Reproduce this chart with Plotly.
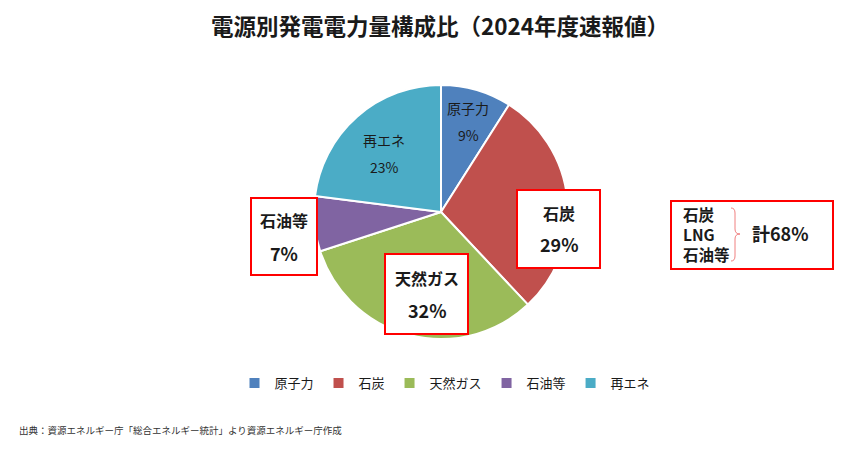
import plotly.graph_objects as go

W, H = 866, 449

sources = ["原子力", "石炭", "天然ガス", "石油等", "再エネ"]
shares = [9, 29, 32, 7, 23]
colors = ["#4F81BD", "#C0504D", "#9BBB59", "#8064A2", "#4BACC6"]

title_text = "電源別発電電力量構成比（2024年度速報値）"
source_note = "出典：資源エネルギー庁「総合エネルギー統計」より資源エネルギー庁作成"
fossil_items = ["石炭", "LNG", "石油等"]
fossil_total = sum(shares[1:4])

FONT = "Noto Sans CJK JP, Noto Sans, sans-serif"
RED = "#FF0000"


def px(x):
    return x / W


def py(y):
    return 1 - y / H


fig = go.Figure(go.Pie(
    labels=sources, values=shares, sort=False, direction="clockwise",
    marker=dict(colors=colors, line=dict(color="white", width=2)),
    textinfo="none", hoverinfo="label+percent",
    domain=dict(x=[px(314), px(568)], y=[py(339), py(85)]),
))

shapes = []
annotations = []


def label(x, y, text, size, bold=False, xanchor="center"):
    t = f"<b>{text}</b>" if bold else text
    annotations.append(dict(x=px(x), y=py(y), xref="paper", yref="paper", text=t, showarrow=False,
                            xanchor=xanchor, yanchor="middle", align="left",
                            font=dict(family=FONT, size=size, color="#1a1a1a")))


def box(x0, y0, x1, y1):
    shapes.append(dict(type="rect", xref="paper", yref="paper", x0=px(x0), x1=px(x1), y0=py(y1), y1=py(y0),
                       line=dict(color=RED, width=2), fillcolor="white", layer="above"))


# plain labels inside slices
label(468, 108, sources[0], 14)
label(468, 135, f"{shares[0]}%", 14)
label(384, 140, sources[4], 14)
label(384, 167, f"{shares[4]}%", 14)

# boxed labels
box(517, 190, 600, 268)
label(559, 213, sources[1], 16, True)
label(559, 244, f"{shares[1]}%", 18, True)

box(385, 254, 468, 334)
label(427, 278, sources[2], 16, True)
label(427, 310, f"{shares[2]}%", 18, True)

box(251, 198, 317, 275)
label(284, 220, sources[3], 16, True)
label(284, 253, f"{shares[3]}%", 18, True)

# fossil total box
box(671, 201, 833, 269)
label(681, 234, "<br>".join(f"<b>{s}</b>" for s in fossil_items), 15.5, xanchor="left")
label(780, 233, f"計{fossil_total}%", 18, True)
bx = 735
path = (f"M {px(bx-4)},{py(208)} Q {px(bx)},{py(208)} {px(bx)},{py(213)} "
        f"L {px(bx)},{py(229)} Q {px(bx)},{py(234)} {px(bx+5)},{py(234)} "
        f"Q {px(bx)},{py(234)} {px(bx)},{py(239)} "
        f"L {px(bx)},{py(256)} Q {px(bx)},{py(261)} {px(bx-4)},{py(261)}")
shapes.append(dict(type="path", xref="paper", yref="paper", path=path,
                   line=dict(color="#F08080", width=1), layer="above"))

# source note
annotations.append(dict(x=px(17), y=py(430), xref="paper", yref="paper", text=source_note, showarrow=False,
                        xanchor="left", yanchor="middle", font=dict(family=FONT, size=9.5, color="#333333")))

fig.update_layout(
    width=W, height=H,
    margin=dict(l=0, r=0, t=0, b=0),
    paper_bgcolor="white", plot_bgcolor="white",
    title=dict(text=f"<b>{title_text}</b>", x=px(440), xanchor="center", y=py(27), yanchor="middle",
               font=dict(family=FONT, size=22.5, color="#1a1a1a")),
    font=dict(family=FONT, color="#1a1a1a"),
    legend=dict(orientation="h", x=px(445), xanchor="center", y=py(383), yanchor="middle",
                font=dict(family=FONT, size=13, color="#1a1a1a"), traceorder="normal"),
    shapes=shapes, annotations=annotations,
)

fig.write_html("out.html", config={"displayModeBar": False},
               post_script="document.body.style.margin='0';")
